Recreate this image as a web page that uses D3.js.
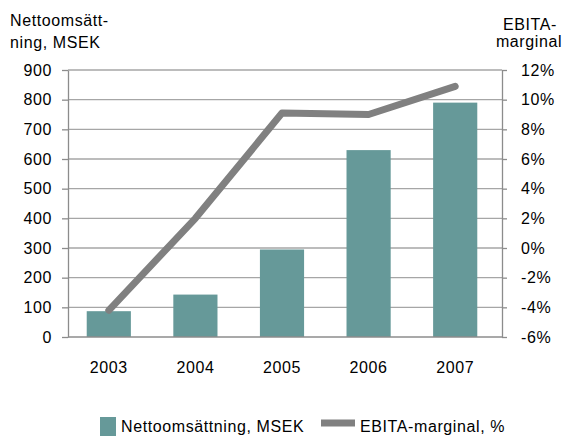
<!DOCTYPE html>
<html lang="sv">
<head>
<meta charset="UTF-8">
<title>Nettoomsättning och EBITA-marginal</title>
<script src="https://d3js.org/d3.v7.min.js"></script>
<style>
  body { margin: 0; background: #fff; }
  text { font-family: "Liberation Sans", Arial, sans-serif; fill: #000; font-size: 16px; letter-spacing: 0.6px; }
  .grid line { stroke: #a6a6a6; stroke-width: 1.3px; }
  .axis path, .axis line { stroke: #8c8c8c; stroke-width: 1.3px; }
</style>
</head>
<body>
<div id="chart"></div>
<script>
const years = ["2003", "2004", "2005", "2006", "2007"];
const sales = [87, 143, 295, 630, 790];          // Nettoomsättning, MSEK
const margin = [-4.2, 2.0, 9.1, 9.0, 10.9];      // EBITA-marginal, %
const leftTicks = [0, 100, 200, 300, 400, 500, 600, 700, 800, 900];
const rightTicks = [-6, -4, -2, 0, 2, 4, 6, 8, 10, 12];

const width = 563, height = 436;
const plotL = 68, plotR = 502, plotT = 70, plotB = 337;

const svg = d3.select("#chart").append("svg")
  .attr("width", width).attr("height", height);

const x = d3.scaleBand().domain(years).range([plotL - 2.5, plotR - 3.5]).paddingInner(0.49).paddingOuter(0.245);
const y = d3.scaleLinear().domain([0, 900]).range([plotB, plotT]);
const y2 = d3.scaleLinear().domain([-6, 12]).range([plotB, plotT]);

// gridlines
svg.append("g").attr("class", "grid")
  .selectAll("line").data(leftTicks.slice(1)).enter().append("line")
  .attr("x1", plotL).attr("x2", plotR)
  .attr("y1", d => y(d)).attr("y2", d => y(d));

// bars
svg.selectAll(".bar").data(years).enter().append("rect")
  .attr("class", "bar")
  .attr("x", d => x(d))
  .attr("width", x.bandwidth())
  .attr("y", (d, i) => y(sales[i]))
  .attr("height", (d, i) => y(0) - y(sales[i]))
  .attr("fill", "#669999");

// axes
svg.append("g").attr("class", "axis")
  .attr("transform", `translate(${plotL},0)`)
  .call(d3.axisLeft(y).tickValues(leftTicks).tickSize(6).tickSizeOuter(0).tickPadding(10));
svg.append("g").attr("class", "axis")
  .attr("transform", `translate(${plotR},0)`)
  .call(d3.axisRight(y2).tickValues(rightTicks).tickFormat(d => d + "%").tickSize(5).tickSizeOuter(0).tickPadding(14));
svg.selectAll(".axis text").attr("font-size", null).attr("font-family", null).attr("fill", "#000");

svg.append("line")
  .attr("x1", plotL).attr("x2", plotR).attr("y1", plotB).attr("y2", plotB)
  .attr("stroke", "#8c8c8c").attr("stroke-width", 1.3);

// year labels
svg.selectAll(".year").data(years).enter().append("text")
  .attr("x", d => x(d) + x.bandwidth() / 2)
  .attr("y", 373)
  .attr("text-anchor", "middle")
  .text(d => d);

// line
const line = d3.line()
  .x((d, i) => x(years[i]) + x.bandwidth() / 2)
  .y(d => y2(d));
svg.append("path").datum(margin)
  .attr("d", line)
  .attr("fill", "none")
  .attr("stroke", "#808080")
  .attr("stroke-width", 7)
  .attr("stroke-linecap", "round")
  .attr("stroke-linejoin", "round");

// axis titles
const lt = svg.append("text");
lt.append("tspan").attr("x", 10).attr("y", 26).text("Nettoomsätt-");
lt.append("tspan").attr("x", 10).attr("y", 48).text("ning, MSEK");
const rt = svg.append("text").attr("text-anchor", "middle");
rt.append("tspan").attr("x", 530).attr("y", 30).text("EBITA-");
rt.append("tspan").attr("x", 529).attr("y", 47).text("marginal");

// legend
const lg = svg.append("g");
lg.append("rect").attr("x", 100).attr("y", 417).attr("width", 16).attr("height", 19).attr("fill", "#669999");
lg.append("text").attr("x", 121).attr("y", 432).text("Nettoomsättning, MSEK");
lg.append("line").attr("x1", 321).attr("x2", 355).attr("y1", 423).attr("y2", 423)
  .attr("stroke", "#808080").attr("stroke-width", 7);
lg.append("text").attr("x", 360).attr("y", 432).text("EBITA-marginal, %");
</script>
</body>
</html>
